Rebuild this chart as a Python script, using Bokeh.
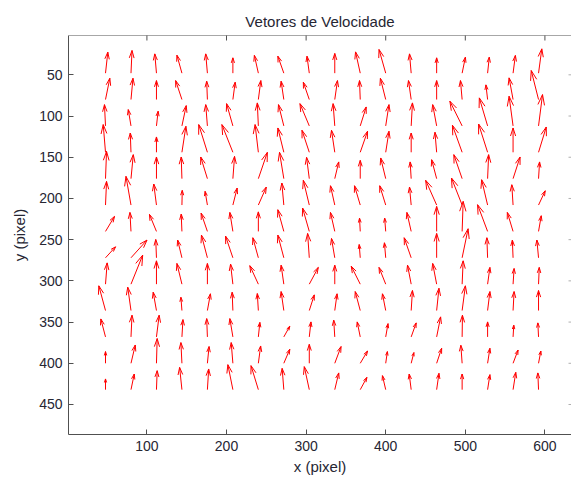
import numpy as np
from bokeh.plotting import figure
from bokeh.models import Range1d, FixedTicker, ColumnDataSource, Span
from bokeh.embed import file_html
from bokeh.resources import INLINE

# grid of arrow origins (image pixels)
X_GRID = [48, 80, 112, 144, 176, 208, 240, 272, 304, 336, 368, 400, 432, 464, 496, 528, 560, 592]
Y_GRID = [48, 80, 112, 144, 176, 208, 240, 272, 304, 336, 368, 400, 432]

# velocity components (one list per row of the grid, y axis points down)
U = [
    [2.9, 1.3, -2.1, -6.3, -2.1, 0, -5.0, -7.5, -2.9, 0, -5.9, -8.4, -2.1, 0, 4.1, 2.1, 2.9, 4.1],
    [5.4, 2.5, 0, -7.9, -0.9, 2.9, 3.1, -3.4, -7.5, 3.4, -0.9, -6.7, -3.4, 0, -2.1, -2.1, -5.0, -9.2],
    [-1.3, -3.4, 2.1, 5.4, -2.1, -7.9, -1.3, -6.7, -11.7, -2.1, 7.5, 4.1, 1.6, -5.0, -15.4, -10.4, -5.0, 5.0],
    [-2.9, -0.9, 0, 5.0, -10.9, -13.8, -4.1, -7.5, -9.2, -4.1, 9.2, 4.1, 0, -2.1, -12.2, -11.3, 0, 9.7],
    [1.3, 2.9, 0, -0.9, -8.4, 2.1, 11.3, -5.4, -3.4, 5.0, 0, -6.3, -1.3, -6.3, -10.4, 1.3, 8.8, 1.3],
    [1.3, -6.3, -3.4, 0.4, -2.9, 5.4, 10.0, -2.5, -7.5, -5.4, -7.2, -7.5, -2.1, -13.8, -13.4, -7.5, -1.6, 8.4],
    [11.3, -1.3, -8.8, -0.9, -7.9, -3.8, 0, -7.5, -8.4, -5.4, -0.9, -1.3, -5.4, 0, 1.3, -12.6, -7.2, 3.4],
    [12.6, 20.1, -0.9, -5.4, -7.5, -9.2, -6.9, -7.5, -2.1, -4.1, -1.3, -1.6, -8.8, 0, 7.5, -0.9, -0.9, -2.1],
    [2.1, 14.7, 0, -6.3, 0, -2.9, -10.7, -3.4, 11.3, 0, -11.3, -8.4, -4.6, -5.0, 1.3, 2.9, 1.3, 0.9],
    [-8.4, -4.1, -4.1, -1.3, 3.8, -0.9, -1.3, -3.4, 6.3, 2.9, -6.3, -4.1, 1.6, 2.9, 4.1, 2.9, 1.3, 0],
    [-5.9, 1.3, 3.4, 1.3, -0.9, -3.8, 1.9, 7.5, 2.1, -1.3, -3.8, 2.9, 6.3, 5.0, 0.4, 0, 0.9, -0.9],
    [0, 5.4, 0.9, -1.3, 2.1, -2.1, 2.9, 7.5, 0, 7.9, 9.2, 2.1, 3.4, 6.3, -1.6, 2.9, 6.3, 2.9],
    [0, 4.1, 0.9, -2.9, 1.6, -6.3, -9.2, -2.1, -6.3, 5.0, 8.4, -4.1, -2.5, 2.9, 0, 2.9, 3.4, -0.9],
]
V = [
    [-25.5, -27.5, -23.4, -21.8, -23.4, -18.6, -21.6, -20.6, -20.6, -23.9, -25.8, -28.7, -23.4, -18.6, -19.4, -19.4, -21.5, -29.5],
    [-25.8, -25.8, -23.0, -23.0, -22.2, -21.0, -23.0, -22.2, -21.0, -23.0, -23.0, -25.8, -23.0, -23.0, -23.0, -17.8, -26.3, -35.2],
    [-25.8, -19.8, -17.8, -24.6, -25.8, -27.0, -27.9, -25.8, -27.0, -27.0, -23.0, -25.8, -27.9, -25.8, -30.0, -34.0, -36.0, -38.0],
    [-33.6, -23.4, -18.6, -31.5, -33.6, -33.6, -33.6, -29.5, -26.7, -26.7, -25.5, -25.5, -23.4, -24.3, -32.8, -34.3, -29.5, -30.7],
    [-33.1, -29.1, -26.3, -26.3, -26.3, -27.0, -31.9, -31.9, -25.8, -20.3, -22.2, -25.1, -20.3, -23.0, -29.1, -29.1, -26.3, -20.3],
    [-28.7, -34.8, -25.5, -17.8, -16.6, -20.6, -21.8, -26.7, -30.0, -23.4, -23.4, -23.4, -21.8, -30.0, -32.8, -30.7, -24.6, -17.3],
    [-18.2, -23.0, -20.6, -21.0, -22.2, -23.0, -23.7, -26.3, -28.3, -23.0, -16.1, -16.1, -23.0, -30.3, -36.4, -32.4, -23.0, -19.0],
    [-13.3, -21.5, -22.2, -21.5, -27.5, -26.3, -24.3, -27.5, -29.5, -23.4, -16.1, -18.2, -24.3, -29.5, -35.2, -24.3, -21.5, -21.5],
    [-25.8, -35.2, -28.3, -25.1, -25.1, -24.3, -22.4, -23.0, -20.3, -23.0, -21.8, -20.3, -23.0, -25.1, -28.3, -20.3, -19.0, -20.3],
    [-30.0, -28.3, -22.2, -16.1, -20.3, -22.2, -20.6, -23.0, -19.0, -20.3, -23.0, -20.3, -24.3, -27.0, -30.0, -23.0, -23.0, -24.3],
    [-21.8, -26.3, -26.3, -21.0, -22.2, -22.2, -17.6, -13.0, -18.2, -20.3, -18.2, -16.1, -17.0, -24.3, -26.3, -18.2, -14.2, -17.0],
    [-14.2, -22.2, -30.0, -25.1, -20.3, -25.1, -21.0, -17.0, -23.0, -20.3, -14.9, -14.2, -13.0, -18.2, -21.8, -18.2, -16.1, -14.9],
    [-13.0, -19.0, -23.0, -27.0, -25.1, -30.3, -29.1, -25.8, -27.9, -20.3, -14.9, -17.0, -19.0, -19.8, -19.0, -18.2, -21.0, -20.3],
]

X_TICKS = [100, 200, 300, 400, 500, 600]
Y_TICKS = [50, 100, 150, 200, 250, 300, 350, 400, 450]

TITLE = "Vetores de Velocidade"
X_LABEL = "x (pixel)"
Y_LABEL = "y (pixel)"

# --- quiver geometry (MATLAB style arrow heads) ---
gx, gy = np.meshgrid(np.array(X_GRID, float), np.array(Y_GRID, float))
u = np.array(U, float).ravel()
v = np.array(V, float).ravel()
x0 = gx.ravel()
y0 = gy.ravel()
x1 = x0 + u
y1 = y0 + v
alpha, beta = 0.33, 0.33
hx1 = x1 - alpha * (u + beta * v)
hy1 = y1 - alpha * (v - beta * u)
hx2 = x1 - alpha * (u - beta * v)
hy2 = y1 - alpha * (v + beta * u)

FONT = "Liberation Sans"
TXT = "#262633"
AX = "#505050"

p = figure(width=571, height=481, output_backend="svg", toolbar_location=None,
           x_range=Range1d(1.5, 633.4), y_range=Range1d(486.4, 2.3),
           min_border_left=68, min_border_right=0, min_border_top=35, min_border_bottom=47,
           title=TITLE)
p.outline_line_color = None
p.grid.visible = False
p.background_fill_color = "white"
p.border_fill_color = "white"

p.title.align = "center"
p.title.text_font = FONT
p.title.text_font_size = "15px"
p.title.text_font_style = "normal"
p.title.text_color = TXT
p.title.standoff = 11

src = ColumnDataSource(dict(x0=x0, y0=y0, x1=x1, y1=y1, hx1=hx1, hy1=hy1, hx2=hx2, hy2=hy2))
p.segment("x0", "y0", "x1", "y1", source=src, line_color="#ff0000", line_width=1)
p.segment("x1", "y1", "hx1", "hy1", source=src, line_color="#ff0000", line_width=1)
p.segment("x1", "y1", "hx2", "hy2", source=src, line_color="#ff0000", line_width=1)

for ax in (p.xaxis[0], p.yaxis[0]):
    ax.axis_line_color = AX
    ax.major_tick_line_color = AX
    ax.minor_tick_line_color = None
    ax.major_tick_in = 5
    ax.major_tick_out = 0
    ax.major_label_text_font = FONT
    ax.major_label_text_font_size = "14px"
    ax.major_label_text_color = TXT
    ax.axis_label_text_font = FONT
    ax.axis_label_text_font_size = "15px"
    ax.axis_label_text_font_style = "normal"
    ax.axis_label_text_color = TXT

p.xaxis.ticker = FixedTicker(ticks=X_TICKS)
p.yaxis.ticker = FixedTicker(ticks=Y_TICKS)
p.xaxis.axis_label = X_LABEL
p.yaxis.axis_label = Y_LABEL
p.xaxis.major_label_standoff = 6
p.xaxis.axis_label_standoff = 4
p.yaxis.major_label_standoff = 6
p.yaxis.axis_label_standoff = 8

# box: top edge line with inward ticks, right-edge inward ticks
p.add_layout(Span(location=p.y_range.end, dimension="width", line_color=AX, line_width=1))
p.scatter(x=X_TICKS, y=[p.y_range.end] * len(X_TICKS), marker="dash", angle=np.pi / 2,
          size=10, line_color=AX, line_width=1)
p.scatter(x=[p.x_range.end] * len(Y_TICKS), y=Y_TICKS, marker="dash",
          size=6, line_color="#b0b0b0", line_width=1)

open("out.html", "w").write(file_html(p, INLINE))
